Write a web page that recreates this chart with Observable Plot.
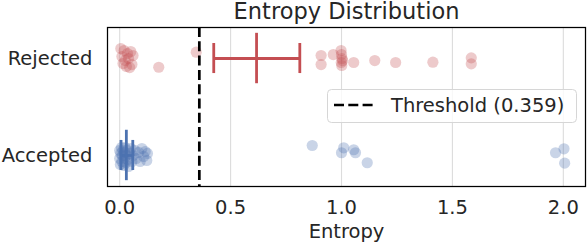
<!DOCTYPE html>
<html>
<head>
<meta charset="utf-8">
<script src="https://cdn.jsdelivr.net/npm/d3@7"></script>
<script src="https://cdn.jsdelivr.net/npm/@observablehq/plot@0.6"></script>
<style>
  html, body { margin: 0; padding: 0; background: #fff; }
  #wrap { position: relative; width: 588px; height: 246px; }
  #legend { position: absolute; left: 0; top: 0; pointer-events: none; }
</style>
</head>
<body>
<div id="wrap"></div>
<script>
// ---- data ----
const categories = ["Rejected", "Accepted"];
const xTicks = [0, 0.5, 1.0, 1.5, 2.0];
const threshold = 0.359;
const thresholdLabel = "Threshold (0.359)";
const titleText = "Entropy Distribution";
const xLabel = "Entropy";

const rejectedEntropy = [0.005, 0.010, 0.015, 0.020, 0.025, 0.030, 0.035, 0.040, 0.050, 0.055, 0.060, 0.045,
  0.176, 0.345, 0.908, 0.908, 0.963, 0.998, 1.000, 1.002, 0.999, 1.001, 1.005, 1.055, 1.150, 1.244, 1.412, 1.585, 1.585];
const rejectedJitter = [-0.103, -0.021, 0.052, -0.082, 0.021, 0.082, -0.052, 0.0, -0.072, 0.062, -0.031, 0.093,
  0.090, -0.065, -0.031, 0.062, -0.041, -0.082, -0.041, 0.0, 0.041, 0.072, 0.021, 0.041, 0.021, 0.041, 0.038, -0.007, 0.055];

const acceptedEntropy = [0.000, 0.000, 0.003, 0.005, 0.008, 0.010, 0.012, 0.015, 0.018, 0.020, 0.022, 0.025, 0.028, 0.030,
  0.033, 0.036, 0.040, 0.045, 0.050, 0.055, 0.060, 0.068, 0.075, 0.085, 0.092, 0.100, 0.108, 0.115, 0.122, 0.125,
  0.868, 1.010, 1.000, 1.055, 1.063, 1.116, 1.965, 2.003, 2.006];
const acceptedJitter = [-0.052, 0.031, 0.093, -0.021, -0.082, 0.062, 0.0, -0.052, 0.103, 0.031, -0.031, -0.082, 0.072, 0.0,
  -0.052, 0.041, 0.113, -0.021, -0.072, 0.062, 0.0, -0.052, 0.031, -0.031, 0.062, -0.072, 0.010, -0.041, 0.052, -0.021,
  -0.103, -0.079, -0.028, -0.059, -0.028, 0.075, -0.028, -0.069, 0.079];

const errMean = [0.617, 0.030];
const errLow  = [0.424, 0.006];
const errHigh = [0.812, 0.059];

// ---- build tables ----
const colors = ["#c44e52", "#4c72b0"];
const points = [
  ...rejectedEntropy.map((v, i) => ({cat: 0, x: v, j: rejectedJitter[i]})),
  ...acceptedEntropy.map((v, i) => ({cat: 1, x: v, j: acceptedJitter[i]}))
];
const errs = categories.map((c, i) => ({cat: i, mean: errMean[i], lo: errLow[i], hi: errHigh[i]}));
const capHalf = 0.155, meanHalf = 0.26;

const W = 588, H = 246, mL = 107, mR = 3, mT = 27, mB = 60;

const chart = Plot.plot({
  width: W, height: H,
  marginLeft: mL, marginRight: mR, marginTop: mT, marginBottom: mB,
  style: {fontFamily: "DejaVu Sans, sans-serif", fontSize: "19.5px", color: "#262626", background: "#fff"},
  x: {domain: [-0.055, 2.1], ticks: xTicks, tickFormat: d3.format(".1f"), tickSize: 0, tickPadding: 14, label: null},
  y: {domain: [-0.32, 1.32], reverse: true, ticks: [0, 1], tickFormat: i => categories[i], tickSize: 0, tickPadding: 15, label: null},
  color: {domain: [0, 1], range: colors},
  marks: [
    Plot.ruleX(xTicks, {stroke: "#dcdcdc", strokeWidth: 1.1}),
    Plot.dot(points, {x: "x", y: d => d.cat + d.j, r: 5.6, fill: d => colors[d.cat], fillOpacity: 0.3, stroke: "none"}),
    Plot.ruleY(errs, {x1: "lo", x2: "hi", y: "cat", stroke: d => colors[d.cat], strokeWidth: 2.8}),
    Plot.ruleX(errs, {x: "lo", y1: d => d.cat - capHalf, y2: d => d.cat + capHalf, stroke: d => colors[d.cat], strokeWidth: 2.8}),
    Plot.ruleX(errs, {x: "hi", y1: d => d.cat - capHalf, y2: d => d.cat + capHalf, stroke: d => colors[d.cat], strokeWidth: 2.8}),
    Plot.ruleX(errs, {x: "mean", y1: d => d.cat - meanHalf, y2: d => d.cat + meanHalf, stroke: d => colors[d.cat], strokeWidth: 2.8}),
    Plot.ruleX([threshold], {stroke: "black", strokeWidth: 2.7, strokeDasharray: "10,4.3"}),
    Plot.frame({stroke: "black", strokeWidth: 1.25}),
    Plot.text([titleText], {frameAnchor: "top", lineAnchor: "bottom", dy: -8.5, fontSize: 22.5, fill: "#262626"}),
    Plot.text([xLabel], {frameAnchor: "bottom", lineAnchor: "bottom", dy: 51, fontSize: 19.5, fill: "#262626"})
  ]
});
const wrap = document.getElementById("wrap");
wrap.appendChild(chart);

// ---- legend overlay ----
const ns = "http://www.w3.org/2000/svg";
const lg = document.createElementNS(ns, "svg");
lg.setAttribute("id", "legend");
lg.setAttribute("width", W);
lg.setAttribute("height", H);
lg.innerHTML = `
  <rect x="327.5" y="89.5" width="249" height="33" rx="4" ry="4" fill="white" fill-opacity="0.8" stroke="#d6d6d6" stroke-width="1"/>
  <line x1="334" y1="105" x2="375" y2="105" stroke="black" stroke-width="2.7" stroke-dasharray="10,4.3"/>
  <text x="391" y="112" font-family="DejaVu Sans, sans-serif" font-size="19.5" fill="#262626"></text>`;
lg.querySelector("text").textContent = thresholdLabel;
wrap.appendChild(lg);
</script>
</body>
</html>
